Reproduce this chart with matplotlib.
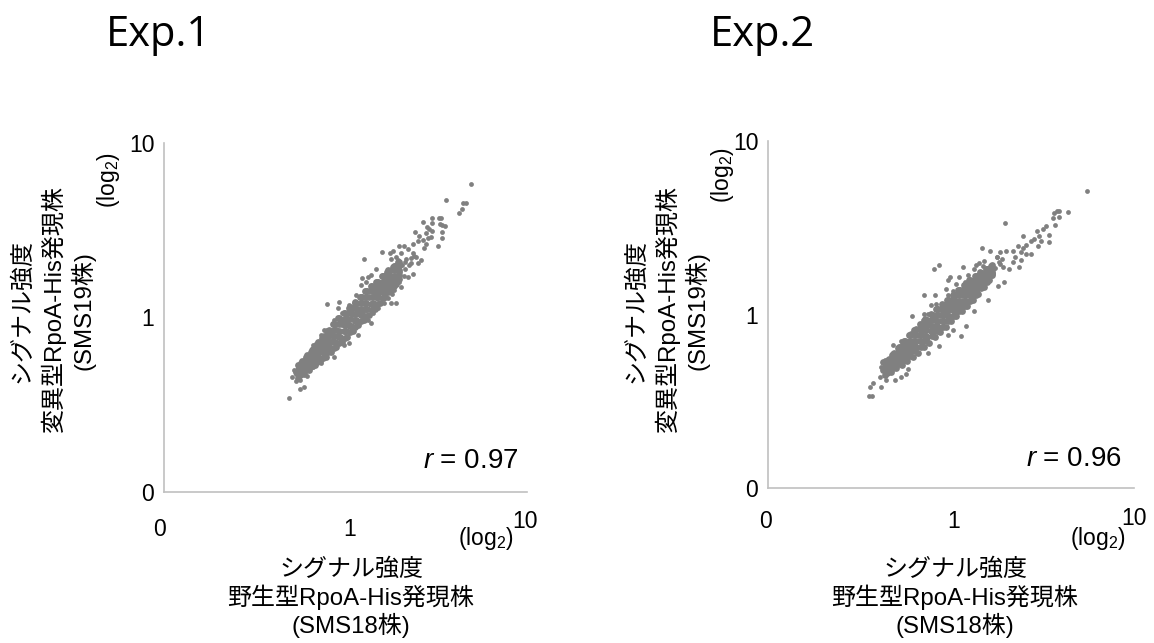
import numpy as np
import matplotlib
matplotlib.use("Agg")
import matplotlib.pyplot as plt
from matplotlib.transforms import ScaledTranslation

FAM = ['Liberation Sans', 'Noto Sans CJK JP']
plt.rcParams['font.family'] = FAM
plt.rcParams['mathtext.fontset'] = 'custom'
plt.rcParams['mathtext.rm'] = 'Liberation Sans'
plt.rcParams['mathtext.it'] = 'Liberation Sans:italic'

# all values are log10 of the signal, the axes run from 0.1 (labelled 0) to 10
exp1_core_x = [-.26,-.25,-.27,-.26,-.25,-.26, -.23,-.24,-.22,-.23,-.24,-.22, -.20,-.21,-.19,-.20,-.21,-.19,
               -.17,-.18,-.16,-.17,-.18,-.16, -.14,-.15,-.13,-.14,-.15,-.13, -.11,-.12,-.10,-.11,-.12,-.10,
               -.08,-.09,-.07,-.08,-.09,-.07, -.05,-.06,-.04,-.05,-.06,-.04, -.02,-.03,-.01,-.02,-.03,-.01,
               .01,0,.02,.01,0,.02, .04,.03,.05,.04,.03,.05, .07,.06,.08,.07,.06,.08,
               .10,.09,.11,.10,.09,.11, .13,.12,.14,.13,.12,.14, .16,.15,.17,.16,.15,.17,
               .19,.18,.20,.19,.18,.20, .22,.21,.23,.22,.21,.23, .25,.24,.26,.25,.24,.26,
               .28,.27,.29,.28,.27,.29]
exp1_core_y = [-.345,-.33,-.315,-.30,-.285,-.27, -.325,-.305,-.29,-.27,-.25,-.235, -.30,-.28,-.26,-.24,-.215,-.195,
               -.27,-.25,-.225,-.205,-.18,-.155, -.25,-.225,-.20,-.17,-.14,-.115, -.225,-.195,-.165,-.135,-.105,-.08,
               -.20,-.165,-.135,-.10,-.07,-.04, -.17,-.14,-.105,-.07,-.04,-.005, -.14,-.11,-.075,-.04,-.01,.025,
               -.11,-.08,-.045,-.015,.02,.055, -.08,-.05,-.015,.02,.05,.085, -.045,-.015,.02,.05,.085,.12,
               -.015,.02,.05,.085,.115,.15, .015,.05,.08,.115,.15,.18, .05,.085,.115,.145,.175,.205,
               .085,.115,.145,.175,.205,.235, .12,.15,.18,.205,.235,.26, .155,.185,.21,.235,.265,.29,
               .19,.215,.24,.27,.295,.32]
exp1_mid_x = [-.245]*5 + [-.215]*5 + [-.185]*5 + [-.155]*5 + [-.125]*5 + [-.095]*5 + [-.065]*5 + [-.035]*5 \
             + [-.005]*5 + [.025]*5 + [.055]*5 + [.085]*5 + [.115]*5 + [.145]*5 + [.175]*5 + [.205]*5 \
             + [.235]*5 + [.265]*5 + [.295]*5
exp1_mid_y = [-.325,-.31,-.295,-.28,-.26, -.30,-.28,-.26,-.245,-.225, -.28,-.255,-.23,-.205,-.185,
              -.255,-.225,-.20,-.175,-.15, -.23,-.20,-.17,-.14,-.11, -.20,-.17,-.14,-.11,-.08,
              -.175,-.14,-.105,-.07,-.04, -.145,-.11,-.075,-.04,-.005, -.115,-.08,-.045,-.01,.025,
              -.085,-.05,-.01,.025,.06, -.055,-.02,.02,.055,.09, -.02,.015,.05,.085,.12,
              .01,.05,.085,.115,.15, .045,.08,.115,.15,.18, .08,.115,.145,.175,.205,
              .11,.145,.175,.205,.24, .145,.18,.21,.24,.27, .18,.21,.24,.27,.295, .22,.245,.27,.30,.32]
exp1_outer_x = [.694,.551,.663,.650,.641,.626,.516,.527,.474,.428,.474,.520,.549,.534,.448,.479,.461,.381,.531,.531,
                .470,.443,.457,.406,.428,.397,.370,.443,.507,.434,.324,.296,.342,.201,.263,.245,.305,.370,.100,.415,
                .388,.333,.278,.250,.360,.305,.397,.168,.141,.122,.091,.113,.086,.370,.342,.296,.305,.269,.250,.256,
                .232,.214,.250,.278,.177,.150,.141,.122,-.101,-.037,-.043,.022,.058,-.019,-.061,.067,.022,-.006,-.061,-.134,
                -.116,-.180,-.281,-.271,-.293,-.275,-.250,-.213,-.226,-.248,-.314,-.253,-.180,-.134,
                .30,.31,.33,.33,.35,.29,.36,.38,.32,.28]
exp1_outer_y = [.763,.673,.658,.658,.623,.600,.568,.568,.568,.545,.539,.535,.524,.530,.516,.497,.505,.492,.492,.453,
                .463,.482,.453,.467,.444,.440,.421,.421,.409,.396,.409,.409,.390,.377,.383,.367,.367,.367,.337,.329,
                .345,.333,.348,.333,.310,.301,.314,.276,.243,.234,.224,.205,.186,.249,.234,.205,.173,.157,.176,.134,
                .110,.081,.081,.081,.052,.024,-.034,-.015,.077,.090,.052,.071,.129,.024,-.015,-.101,-.148,-.158,-.225,-.101,
                -.072,-.158,-.301,-.324,-.339,-.362,-.358,-.336,-.400,-.412,-.462,-.301,-.282,-.263,
                .26,.30,.28,.32,.30,.33,.34,.35,.24,.30]

exp2_core_x = [-.36,-.35,-.37,-.36,-.35,-.37, -.33,-.34,-.32,-.33,-.34,-.32, -.30,-.31,-.29,-.30,-.31,-.29,
               -.27,-.28,-.26,-.27,-.28,-.26, -.24,-.25,-.23,-.24,-.25,-.23, -.21,-.22,-.20,-.21,-.22,-.20,
               -.18,-.19,-.17,-.18,-.19,-.17, -.15,-.16,-.14,-.15,-.16,-.14, -.12,-.13,-.11,-.12,-.13,-.11,
               -.09,-.10,-.08,-.09,-.10,-.08, -.06,-.07,-.05,-.06,-.07,-.05, -.03,-.04,-.02,-.03,-.04,-.02,
               0,-.01,.01,0,-.01,.01, .03,.02,.04,.03,.02,.04, .06,.05,.07,.06,.05,.07,
               .09,.08,.10,.09,.08,.10, .12,.11,.13,.12,.11,.13, .15,.14,.16,.15,.14,.16,
               .18,.17,.19,.18,.17,.19, .21,.20,.22,.21,.20,.22]
exp2_core_y = [-.35,-.335,-.32,-.305,-.29,-.275, -.33,-.31,-.295,-.275,-.255,-.235, -.31,-.29,-.265,-.24,-.22,-.195,
               -.29,-.265,-.24,-.215,-.19,-.16, -.27,-.24,-.21,-.18,-.15,-.12, -.245,-.21,-.18,-.15,-.115,-.09,
               -.22,-.19,-.155,-.12,-.085,-.055, -.19,-.16,-.125,-.09,-.055,-.025, -.165,-.13,-.095,-.06,-.03,.005,
               -.13,-.10,-.065,-.03,0,.03, -.10,-.07,-.035,-.005,.03,.06, -.07,-.04,-.005,.025,.055,.085,
               -.04,-.01,.025,.055,.085,.115, -.01,.02,.05,.08,.11,.14, .02,.05,.08,.11,.14,.17,
               .05,.08,.11,.14,.17,.20, .085,.11,.14,.165,.195,.22, .12,.145,.17,.195,.22,.245,
               .16,.18,.20,.22,.24,.26, .20,.215,.23,.245,.26,.28]
exp2_mid_x = [-.345]*5 + [-.315]*5 + [-.285]*5 + [-.255]*5 + [-.225]*5 + [-.195]*5 + [-.165]*5 + [-.135]*5 \
             + [-.105]*5 + [-.075]*5 + [-.045]*5 + [-.015]*5 + [.015]*5 + [.045]*5 + [.075]*5 + [.105]*5 \
             + [.135]*5 + [.165]*5 + [.195]*5 + [.225]*5
exp2_mid_y = [-.33,-.31,-.295,-.28,-.26, -.31,-.285,-.265,-.245,-.225, -.285,-.26,-.24,-.215,-.19,
              -.26,-.235,-.21,-.185,-.155, -.24,-.21,-.18,-.15,-.12, -.21,-.18,-.15,-.12,-.09,
              -.185,-.155,-.12,-.09,-.06, -.155,-.125,-.09,-.06,-.03, -.125,-.095,-.065,-.03,0,
              -.095,-.065,-.035,-.005,.03, -.07,-.035,-.005,.025,.055, -.04,-.01,.025,.055,.085,
              -.01,.02,.05,.085,.115, .02,.05,.08,.11,.14, .05,.08,.11,.14,.17,
              .08,.11,.14,.17,.20, .115,.14,.17,.195,.22, .15,.175,.195,.22,.24,
              .19,.205,.225,.245,.26, .225,.24,.255,.27,.285]
exp2_outer_x = [.742,.637,.591,.577,.561,.588,.555,.570,.294,.519,.501,.468,.537,.392,.482,.455,.437,.491,.537,.410,
                .473,.364,.337,.392,.301,.437,.410,.383,.350,.373,.383,.337,.168,.215,.266,.250,.179,.155,.134,-.063,
                -.093,.068,.128,.177,.319,.283,.292,.255,-.008,.046,.092,-.017,.028,.074,-.026,.010,-.017,-.146,-.088,-.081,
                -.108,-.215,-.150,-.126,-.153,.201,.128,.083,.010,.054,-.017,-.066,-.126,-.317,-.271,-.317,-.362,-.380,-.335,-.386,
                -.353,-.308,-.271,-.235,-.426,-.440,-.380,-.449,-.429,-.248,-.344,
                .24,.26,.28,.25,.27,.23]
exp2_outer_y = [.713,.590,.594,.594,.583,.560,.554,.518,.527,.512,.493,.479,.460,.454,.454,.435,.426,.426,.416,.403,
                .397,.397,.368,.384,.368,.349,.349,.359,.334,.276,.315,.301,.384,.368,.362,.330,.311,.295,.288,.288,
                .261,.272,.263,.282,.263,.272,.190,.167,.219,.219,.225,.196,.177,.186,.148,.138,.110,.112,.115,.062,
                .056,-.009,.004,.004,-.034,.081,.023,-.069,-.092,-.124,-.120,-.182,-.222,-.178,-.153,-.222,-.264,-.302,-.331,-.360,
                -.379,-.375,-.360,-.312,-.392,-.417,-.417,-.467,-.467,-.341,-.274,
                .27,.30,.32,.33,.29,.24]

tick_vals = [0.1, 1, 10]
tick_labels = ['0', '1', '10']
W, H = 1154, 643
fig = plt.figure(figsize=(W / 100, H / 100), dpi=100)
fig.patch.set_facecolor('white')


def px(x, y):
    return x / W, 1 - y / H


def panel(box, dense_x, dense_y, sparse_x, sparse_y, xpad, shift0, shift1, shift10):
    l, t, r, b = box
    ax = fig.add_axes([l / W, 1 - b / H, (r - l) / W, (b - t) / H])
    ax.set_xscale('log')
    ax.set_yscale('log')
    ax.set_xlim(0.1, 10)
    ax.set_ylim(0.1, 10)
    ax.scatter(10 ** np.array(dense_x), 10 ** np.array(dense_y), s=24, color='#808080',
               linewidths=0, clip_on=False, zorder=3)
    ax.scatter(10 ** np.array(sparse_x), 10 ** np.array(sparse_y), s=12, color='#808080',
               linewidths=0, clip_on=False, zorder=3)
    ax.set_xticks(tick_vals, tick_labels, fontsize=16.5)
    ax.set_yticks(tick_vals, tick_labels, fontsize=16.5)
    ax.minorticks_off()
    ax.tick_params(length=0, colors='#000000')
    ax.tick_params(axis='x', pad=xpad)
    ax.tick_params(axis='y', pad=7)
    labs = ax.get_xticklabels()
    for lab, (dx, dy) in zip(labs, (shift0, shift1, shift10)):
        lab.set_transform(lab.get_transform() + ScaledTranslation(dx / 100, dy / 100, fig.dpi_scale_trans))
    for s in ('top', 'right'):
        ax.spines[s].set_visible(False)
    for s in ('left', 'bottom'):
        ax.spines[s].set_color('#c0c0c0')
        ax.spines[s].set_linewidth(1.2)
    ax.patch.set_alpha(0)
    return ax


panel((164, 143, 527, 492), exp1_core_x + exp1_mid_x, exp1_core_y + exp1_mid_y, exp1_outer_x, exp1_outer_y,
      19, (-4, 0), (4, 0), (-2, 8))
panel((768, 141, 1134, 488), exp2_core_x + exp2_mid_x, exp2_core_y + exp2_mid_y, exp2_outer_x, exp2_outer_y,
      16, (-2, 0), (3, 0), (0, 3))

LOG2 = r'(log$_{\mathrm{2}}$)'
JA = dict(family=FAM, fontsize=17.3, ha='center', va='center', color='black')
TITLE = dict(fontsize=30, family=['Open Sans'], ha='center', va='baseline')

fig.text(*px(159, 46), 'Exp.1', **TITLE)
fig.text(*px(762, 46), 'Exp.2', **TITLE)

fig.text(*px(108, 180), LOG2, rotation=90, fontsize=16.5, ha='center', va='center')
fig.text(*px(722, 175), LOG2, rotation=90, fontsize=16.5, ha='center', va='center')
fig.text(*px(486, 538), LOG2, fontsize=16.5, ha='center', va='center')
fig.text(*px(1098, 538), LOG2, fontsize=16.5, ha='center', va='center')

for x0 in (22, 636):
    fig.text(*px(x0, 311), 'シグナル強度', rotation=90, **JA)
    fig.text(*px(x0 + 31, 309), '変異型RpoA-His発現株', rotation=90, **JA)
    fig.text(*px(x0 + 61, 311), '(SMS19株)', rotation=90, **JA)

for xc in (351, 955):
    fig.text(*px(xc, 569), 'シグナル強度', **JA)
    fig.text(*px(xc, 597), '野生型RpoA-His発現株', **JA)
    fig.text(*px(xc, 625), '(SMS18株)', **JA)

fig.text(*px(471, 468), r'$\mathit{r}$ = 0.97', fontsize=20, ha='center', va='baseline')
fig.text(*px(1074, 466), r'$\mathit{r}$ = 0.96', fontsize=20, ha='center', va='baseline')

fig.savefig('out.png', dpi=100, facecolor='white')
